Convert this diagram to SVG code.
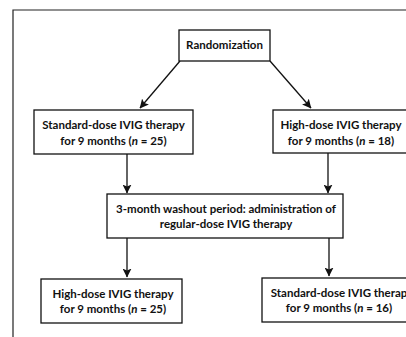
<svg xmlns="http://www.w3.org/2000/svg" width="406" height="337" viewBox="0 0 406 337">
<defs>
<marker id="ah" markerWidth="9" markerHeight="9" refX="8.5" refY="4.5" orient="auto" markerUnits="userSpaceOnUse">
<path d="M0,0 L9,4.5 L0,9 L2,4.5 Z" fill="#111"/>
</marker>
<style>
.box{fill:#fff;stroke:#111;stroke-width:1.3}
.t{font-family:Lato,"Liberation Sans",sans-serif;font-weight:bold;font-size:11.5px;fill:#111;text-anchor:middle}
.c{stroke:#111;stroke-width:1.3;fill:none;marker-end:url(#ah)}
.f{stroke:#222;stroke-width:1.2;fill:none}
</style>
</defs>
<rect width="406" height="337" fill="#fff"/>
<path class="f" d="M13,337 L13,10 L406,10"/>
<g id="connectors">
<line class="c" x1="180" y1="61" x2="140" y2="108"/>
<line class="c" x1="270" y1="61" x2="311" y2="108"/>
<line class="c" x1="127" y1="154" x2="127" y2="193"/>
<line class="c" x1="328" y1="153" x2="328" y2="193"/>
<line class="c" x1="127" y1="238" x2="127" y2="277"/>
<line class="c" x1="329" y1="238" x2="329" y2="276"/>
</g>
<g id="randomization">
<rect class="box" x="179" y="30" width="91" height="31"/>
<text class="t" x="224.5" y="49">Randomization</text>
</g>
<g id="standard1">
<rect class="box" x="34" y="110" width="159" height="44"/>
<text class="t" x="113.5" y="129">Standard-dose IVIG therapy</text>
<text class="t" x="113.5" y="145">for 9 months (<tspan font-style="italic">n</tspan> = 25)</text>
</g>
<g id="high1">
<rect class="box" x="273" y="110" width="140" height="43"/>
<text class="t" x="341" y="129">High-dose IVIG therapy</text>
<text class="t" x="341" y="145">for 9 months (<tspan font-style="italic">n</tspan> = 18)</text>
</g>
<g id="washout">
<rect class="box" x="107" y="194" width="236" height="44"/>
<text class="t" x="226" y="213">3-month washout period: administration of</text>
<text class="t" x="226" y="228">regular-dose IVIG therapy</text>
</g>
<g id="high2">
<rect class="box" x="41" y="279" width="141" height="44"/>
<text class="t" x="113" y="298">High-dose IVIG therapy</text>
<text class="t" x="113" y="313">for 9 months (<tspan font-style="italic">n</tspan> = 25)</text>
</g>
<g id="standard2">
<rect class="box" x="262" y="278" width="160" height="44"/>
<text class="t" x="342" y="297">Standard-dose IVIG therapy</text>
<text class="t" x="339" y="312">for 9 months (<tspan font-style="italic">n</tspan> = 16)</text>
</g>
</svg>
